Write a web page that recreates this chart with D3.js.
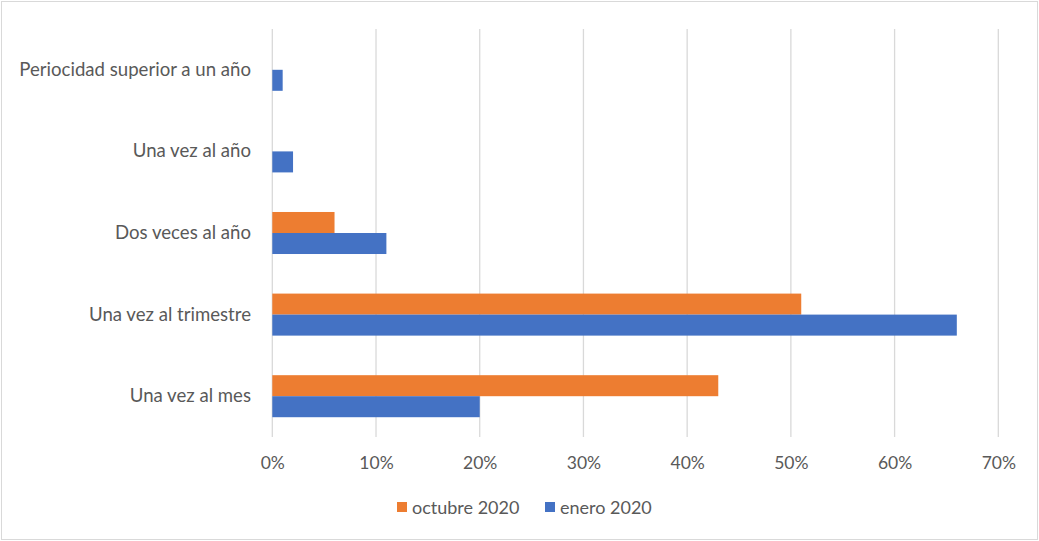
<!DOCTYPE html>
<html>
<head>
<meta charset="utf-8">
<script src="https://cdn.jsdelivr.net/npm/d3@7"></script>
<style>
  html, body { margin: 0; padding: 0; background: #fff; }
  svg { display: block; }
  text { font-family: Lato, "Open Sans", sans-serif; fill: #595959; }
</style>
</head>
<body>
<svg id="chart" width="1039" height="541"></svg>
<script>
const categories = ["Periocidad superior a un año", "Una vez al año", "Dos veces al año", "Una vez al trimestre", "Una vez al mes"];
const seriesNames = ["octubre 2020", "enero 2020"];
const octubre2020 = [0, 0, 6, 51, 43];
const enero2020 = [1, 2, 11, 66, 20];
const tickValues = [0, 10, 20, 30, 40, 50, 60, 70];
const colors = ["#ED7D31", "#4472C4"];

(function () {
const svg = d3.select("#chart");
const W = 1039, H = 541;

svg.append("rect").attr("x", 1.5).attr("y", 1.5).attr("width", W - 3).attr("height", H - 3)
  .attr("fill", "#fff").attr("stroke", "#d9d9d9").attr("stroke-width", 1);

const pLeft = 272.3, pRight = 998.3, pTop = 29, pBottom = 437;

const x = d3.scaleLinear().domain([0, 70]).range([pLeft, pRight]);
const y = d3.scaleBand().domain(categories).range([pTop, pBottom]).paddingInner(0.485).paddingOuter(0.2425);
const ySeries = d3.scaleBand().domain(seriesNames).range([0, y.bandwidth()]);

// gridlines
svg.append("g").selectAll("line").data(tickValues).join("line")
  .attr("x1", d => x(d)).attr("x2", d => x(d))
  .attr("y1", pTop).attr("y2", pBottom)
  .attr("stroke", "#d9d9d9").attr("stroke-width", 1.3);

// bars
const data = [octubre2020, enero2020];
seriesNames.forEach((s, si) => {
  svg.append("g").selectAll("rect").data(categories).join("rect")
    .attr("x", x(0))
    .attr("y", c => y(c) + ySeries(s))
    .attr("width", (c, i) => x(data[si][i]) - x(0))
    .attr("height", ySeries.bandwidth())
    .attr("fill", colors[si]);
});

// category labels
svg.append("g").selectAll("text").data(categories).join("text")
  .attr("x", 251)
  .attr("y", c => y(c) + y.bandwidth() / 2 - 1)
  .attr("text-anchor", "end")
  .attr("dominant-baseline", "central")
  .attr("font-size", 18.6)
  .text(c => c);

// x axis tick labels
const xAxis = d3.axisBottom(x).tickValues(tickValues).tickFormat(d => d + "%").tickSize(0).tickPadding(0);
const gx = svg.append("g").attr("transform", `translate(0,${463})`).call(xAxis);
gx.select(".domain").remove();
gx.selectAll("text").attr("font-size", 17.5).attr("dy", "0.35em").attr("y", 0)
  .style("font-family", "Lato, 'Open Sans', sans-serif").attr("fill", "#595959");

// legend
const legendItems = [{name: seriesNames[0], color: colors[0], x: 397}, {name: seriesNames[1], color: colors[1], x: 545}];
const lg = svg.append("g");
legendItems.forEach(it => {
  lg.append("rect").attr("x", it.x).attr("y", 502).attr("width", 10).attr("height", 10).attr("fill", it.color);
  lg.append("text").attr("x", it.x + 15).attr("y", 507).attr("dominant-baseline", "central")
    .attr("font-size", 18).text(it.name);
});
})();
</script>
</body>
</html>
